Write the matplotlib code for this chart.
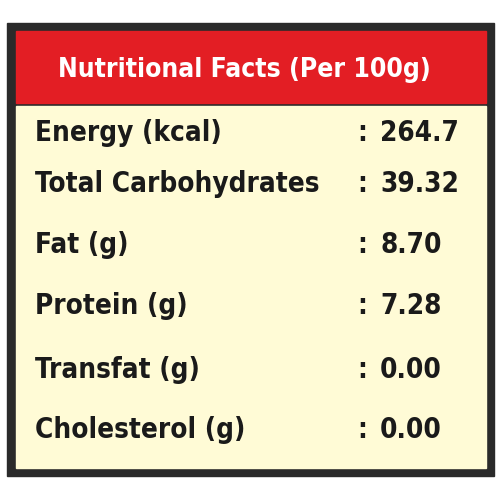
import matplotlib
matplotlib.use("Agg")
import matplotlib.pyplot as plt
from matplotlib.patches import Rectangle

title = "Nutritional Facts (Per 100g)"
labels = ["Energy (kcal)", "Total Carbohydrates", "Fat (g)", "Protein (g)", "Transfat (g)", "Cholesterol (g)"]
values = ["264.7", "39.32", "8.70", "7.28", "0.00", "0.00"]
row_y = [133, 184, 245, 306, 370, 430]

fam = ["DejaVu Sans"]
fig = plt.figure(figsize=(5, 5), dpi=100)
ax = fig.add_axes([0, 0, 1, 1])
ax.set_xlim(0, 500); ax.set_ylim(500, 0); ax.axis("off")
ax.add_patch(Rectangle((7, 23), 487, 453, color="#2a2a2a"))
ax.add_patch(Rectangle((16, 31), 470, 72, color="#e31e24"))
ax.add_patch(Rectangle((16, 106), 470, 362, color="#fffbd6"))
kw = dict(fontweight="bold", family=fam, fontstretch="condensed", va="center", color="#1a1a1a")
ax.text(244, 70, title, fontsize=19, ha="center", **{**kw, "color": "white"})
for y, l, v in zip(row_y, labels, values):
    ax.text(35, y, l, fontsize=20, **kw)
    ax.text(357, y, ":", fontsize=20, **kw)
    ax.text(380, y, v, fontsize=20, **kw)
fig.savefig("out.png", dpi=100, facecolor="white")
